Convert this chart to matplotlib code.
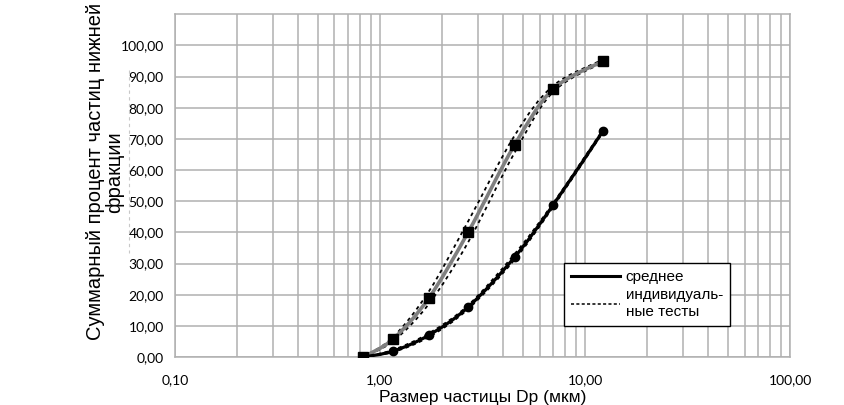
import numpy as np
import matplotlib
matplotlib.use("Agg")
import matplotlib.pyplot as plt
from matplotlib.path import Path
from matplotlib.patches import PathPatch
from matplotlib.ticker import FixedLocator, LogLocator, NullFormatter

# particle size, um
size_um = [0.83, 1.16, 1.73, 2.69, 4.53, 6.98, 12.2]

# upper group (grey mean + dotted tests)
upper_mean = [0.0, 5.8, 18.9, 40.0, 68.0, 85.9, 94.9]
upper_test_a = [0.0, 6.4, 21.0, 43.5, 71.0, 87.0, 95.4]
upper_test_b = [0.0, 5.1, 17.0, 36.8, 65.5, 85.0, 94.5]

# lower group (black mean + dotted tests)
lower_mean = [0.0, 1.9, 7.0, 16.0, 32.0, 48.7, 72.4]
lower_test_a = [0.0, 2.3, 7.6, 16.6, 33.0, 49.3, 72.8]
lower_test_b = [0.0, 1.6, 6.4, 15.4, 31.2, 48.1, 72.0]

x_ticks = [0.1, 1, 10, 100]
x_tick_labels = ["0,10", "1,00", "10,00", "100,00"]
y_ticks = list(range(0, 101, 10))
y_tick_labels = [f"{v},00" for v in y_ticks]


def smooth_path(xs, ys):
    # Excel-like smoothed line: Catmull-Rom segments as cubic Beziers in (log x, y)
    lx = np.log10(xs)
    ys = np.asarray(ys, dtype=float)
    pts = np.column_stack([lx, ys])
    n = len(pts)
    verts = [pts[0]]
    codes = [Path.MOVETO]
    for i in range(n - 1):
        p0 = pts[max(i - 1, 0)]
        p1 = pts[i]
        p2 = pts[i + 1]
        p3 = pts[min(i + 2, n - 1)]
        c1 = p1 + (p2 - p0) / 6.0
        c2 = p2 - (p3 - p1) / 6.0
        verts += [c1, c2, p2]
        codes += [Path.CURVE4] * 3
    verts = np.array(verts)
    verts[:, 0] = 10 ** verts[:, 0]
    return Path(verts, codes)


def draw_curve(ax, xs, ys, **kw):
    patch = PathPatch(smooth_path(xs, ys), fill=False, **kw)
    ax.add_patch(patch)


fig = plt.figure(figsize=(8.45, 4.05), dpi=100)
ax = fig.add_axes([0.207, 0.1185, 0.728, 0.8465])
ax.set_xscale("log")
ax.set_xlim(0.1, 100)
ax.set_ylim(0, 110)

tick_font = "Lato"
label_font = "Liberation Sans"

ax.xaxis.set_major_locator(FixedLocator(x_ticks))
ax.xaxis.set_minor_locator(LogLocator(base=10, subs=np.arange(2, 10)))
ax.xaxis.set_minor_formatter(NullFormatter())
ax.set_xticks(x_ticks)
ax.set_xticklabels(x_tick_labels, fontfamily=tick_font, fontsize=10)
ax.set_yticks(y_ticks)
ax.set_yticklabels(y_tick_labels, fontfamily=tick_font, fontsize=10)
ax.tick_params(axis="both", which="both", length=0, pad=8)
ax.tick_params(axis="x", pad=12)

grid_c = "#b0b0b0"
ax.grid(True, axis="x", which="both", color=grid_c, linewidth=1.1)
ax.grid(True, axis="y", which="major", color=grid_c, linewidth=1.1)
ax.set_axisbelow(True)
for s in ax.spines.values():
    s.set_color(grid_c)
    s.set_linewidth(1.1)

# individual tests
for ys in (upper_test_a, upper_test_b, lower_test_a, lower_test_b):
    draw_curve(ax, size_um, ys, edgecolor="black", linewidth=1.3,
               linestyle=(0, (2, 2)), zorder=3)

# means
draw_curve(ax, size_um, upper_mean, edgecolor="#7f7f7f", linewidth=2.6, zorder=4)
draw_curve(ax, size_um, lower_mean, edgecolor="black", linewidth=2.3, zorder=4)
ax.plot(size_um, upper_mean, linestyle="none", marker="s", markersize=6.5,
        color="black", zorder=5)
ax.plot(size_um, lower_mean, linestyle="none", marker="o", markersize=6,
        color="black", zorder=5)

# legend handles
h_mean, = ax.plot([], [], color="black", linewidth=2.2, label="среднее")
h_test, = ax.plot([], [], color="black", linewidth=1.1, linestyle=(0, (2, 1.5)),
                  label="индивидуаль-\nные тесты")
leg = ax.legend(handles=[h_mean, h_test], loc="lower right",
                bbox_to_anchor=(0.903, 0.09), frameon=True, fancybox=False,
                edgecolor="black", framealpha=1, handlelength=3.2,
                borderpad=0.5, labelspacing=0.25, handletextpad=0.35,
                borderaxespad=0.0, prop={"family": label_font, "size": 11})
leg.get_frame().set_linewidth(1.0)

ax.set_xlabel("Размер частицы Dp (мкм)", fontfamily=label_font, fontsize=12.5,
              labelpad=3)
ax.set_ylabel("Суммарный процент частиц нижней\nфракции", fontfamily=label_font,
              fontsize=14.5, linespacing=1.0)
ax.yaxis.set_label_coords(-0.083, 0.54)

# faint dashed artefact left of the tick labels
fig.add_artist(plt.Line2D([129 / 845, 129 / 845], [1 - 70 / 405, 1 - 253 / 405],
                          transform=fig.transFigure, color="#c8c8c8",
                          linewidth=0.8, linestyle=(0, (3, 3))))

fig.savefig("out.png", dpi=100)
